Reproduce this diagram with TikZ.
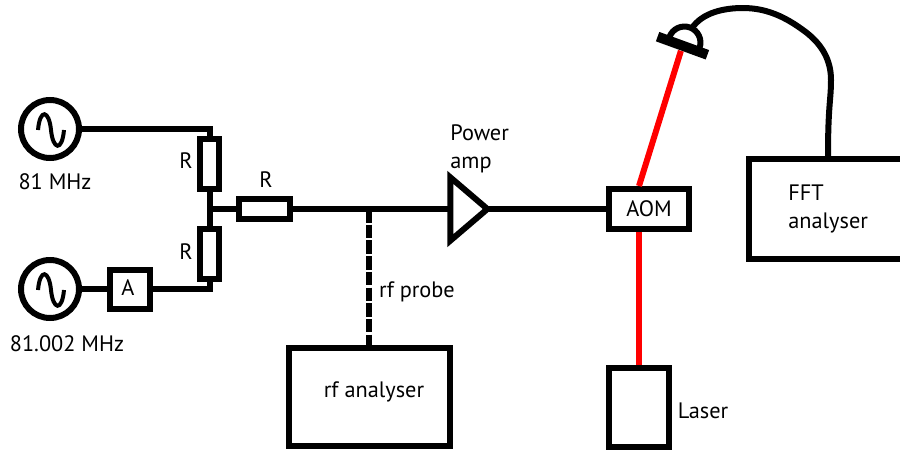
\documentclass[tikz,border=0pt]{standalone}
\usepackage{fontspec}
\setmainfont{PT Sans}
\usetikzlibrary{shapes.geometric}
\tikzset{
  wire/.style={line width=6*0.02cm},
  beam/.style={line width=6*0.02cm,red},
  box/.style={draw,line width=6*0.02cm,fill=white,inner sep=0pt},
  lab/.style={inner sep=0pt,align=left,font=\fontsize{12.7}{15.8}\selectfont},
}
\begin{document}
\begin{tikzpicture}[x=0.02cm,y=0.02cm]
\useasboundingbox (0,0) rectangle (900,-450);
% sources
\node [box,circle,minimum size=58*0.02cm] (srcA) at (50,-129) {};
\node [box,circle,minimum size=58*0.02cm] (srcB) at (50,-289) {};
\draw [line width=4*0.02cm] (38,-130) .. controls (40,-108) and (49,-110) .. (51,-130) .. controls (53,-150) and (62,-152) .. (64,-130);
\draw [line width=4*0.02cm] (38,-290) .. controls (40,-268) and (49,-270) .. (51,-290) .. controls (53,-310) and (62,-312) .. (64,-290);
\node [lab] (labA) at (55,-182) {81 MHz};
\node [lab] (labB) at (67,-344) {81.002 MHz};
% attenuator and resistors
\node [box,minimum width=40*0.02cm,minimum height=39*0.02cm] (att) at (130,-289) {};
\node [lab] at (128,-288) {A};
\node [box,minimum width=19*0.02cm,minimum height=50*0.02cm] (resA) at (209.5,-164) {};
\node [box,minimum width=19*0.02cm,minimum height=50*0.02cm] (resB) at (209.5,-254) {};
\node [box,minimum width=51*0.02cm,minimum height=20*0.02cm] (resC) at (264.5,-209) {};
\node [lab] (labRA) at (186,-161) {R};
\node [lab] (labRB) at (186,-252) {R};
\node [lab] (labRC) at (266,-180) {R};
\coordinate (join) at (209.5,-209);
\coordinate (tapA) at (209.5,-129);
\coordinate (tapB) at (209.5,-289);
\draw [wire] (srcA) -- (tapA) -- (resA);
\draw [wire] (srcB) -- (att);
\draw [wire] (att) -- (tapB) -- (resB);
\draw [wire] (resA) -- (join) -- (resB);
\draw [wire] (join) -- (resC);
% amplifier and rf side
\node [box,minimum width=80*0.02cm,minimum height=40*0.02cm] (aom) at (649,-209) {};
\node [lab] at (aom) {AOM};
\draw [wire] (resC) -- (aom);
\node [box,isosceles triangle,isosceles triangle apex angle=81,minimum height=37*0.02cm,anchor=apex] (amp) at (492,-209) {};
\node [lab,anchor=west] (labAmp) at (450,-149) {Power\\amp};
\coordinate (probe) at (369,-209);
\node [box,minimum width=161*0.02cm,minimum height=98*0.02cm] (rfan) at (369,-397) {};
\node [lab] at (374,-392) {rf analyser};
\node [lab] (labProbe) at (417,-292) {rf probe};
\draw [wire,dash pattern=on 13.5*0.02cm off 2.2*0.02cm] (probe) -- (rfan);
% optics
\node [box,minimum width=60*0.02cm,minimum height=79*0.02cm] (laser) at (639,-407.5) {};
\node [lab] (labLaser) at (703,-411) {Laser};
\node [fill,rotate=-20,minimum width=53*0.02cm,minimum height=10*0.02cm,inner sep=0pt] (det) at (682.5,-45.7) {};
\draw [beam] (laser) -- (aom.south -| laser);
\draw [beam] (aom.north -| laser) -- (det);
\node [box,minimum width=170*0.02cm,minimum height=100*0.02cm,anchor=north west] (fft) at (746,-156) {};
\node [lab,anchor=west] (labFFT) at (788,-209) {FFT\\analyser};
\coordinate (domeEnd) at (699.5,-48);
\draw [wire] (domeEnd) arc (-20:160:16);
\draw [wire] (692,-28) .. controls (703,-12) and (725,-8) .. (743,-8) .. controls (770,-8) and (790,-20) .. (807,-33) .. controls (822,-45) and (831,-60) .. (831,-80) .. controls (831,-100) and (828,-105) .. (828,-156);
\end{tikzpicture}
\end{document}
